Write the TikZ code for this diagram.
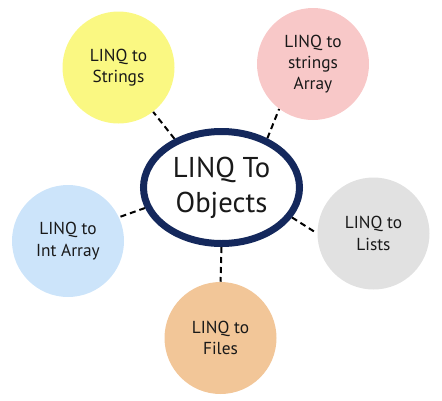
\documentclass[tikz,border=0pt]{standalone}
\usepackage{fontspec}
\setmainfont{PT Sans}
\usepackage{tikz}
\usetikzlibrary{shapes.geometric, backgrounds}

\definecolor{stringsYellow}{RGB}{250,248,130}
\definecolor{arrayPink}{RGB}{248,200,200}
\definecolor{intBlue}{RGB}{204,228,250}
\definecolor{listsGray}{RGB}{225,225,225}
\definecolor{filesOrange}{RGB}{242,198,152}
\definecolor{hubNavy}{RGB}{20,40,92}
\definecolor{hubGray}{RGB}{205,205,205}

\pgfdeclareradialshading{hubRim}{\pgfpoint{0bp}{0bp}}{color(0bp)=(white); color(38bp)=(white); color(50bp)=(hubGray); color(60bp)=(hubGray)}

\begin{document}
\begin{tikzpicture}[x=0.75pt, y=-0.75pt,
	topic/.style={circle, minimum size=84pt, inner sep=0pt, align=center,
		text=black!90, font=\fontsize{13}{16}\selectfont},
	hub/.style={ellipse, draw=hubNavy, line width=5.25pt, shade, shading=hubRim,
		minimum width=117pt, minimum height=84pt, inner sep=0pt, align=center,
		text=black!90, font=\fontsize{21.5}{26}\selectfont},
	link/.style={line width=1.5pt, dash pattern=on 4.5pt off 3pt}]

	\useasboundingbox (0,0) rectangle (442,400);

	\node [hub] (objects) at (221.5,187.5) {LINQ To\\Objects};

	\node [topic, fill=stringsYellow] (strings) at (118.5,67.5) {LINQ to\\Strings};
	\node [topic, fill=arrayPink] (strArray) at (313,64) {LINQ to\\strings\\Array};
	\node [topic, fill=intBlue] (intArray) at (68,241) {LINQ to\\Int Array};
	\node [topic, fill=listsGray] (lists) at (373.5,233.5) {LINQ to\\Lists};
	\node [topic, fill=filesOrange] (files) at (220.5,338) {LINQ to\\Files};

	\begin{scope}[on background layer]
		\draw [link] (objects.134) -- (strings.308);
		\draw [link] (objects.47) -- (strArray.233);
		\draw [link] (objects.195) -- (intArray.25);
		\draw [link] (objects.337) -- (lists.180);
		\draw [link] (objects.270) -- (files.90);
	\end{scope}

\end{tikzpicture}
\end{document}
